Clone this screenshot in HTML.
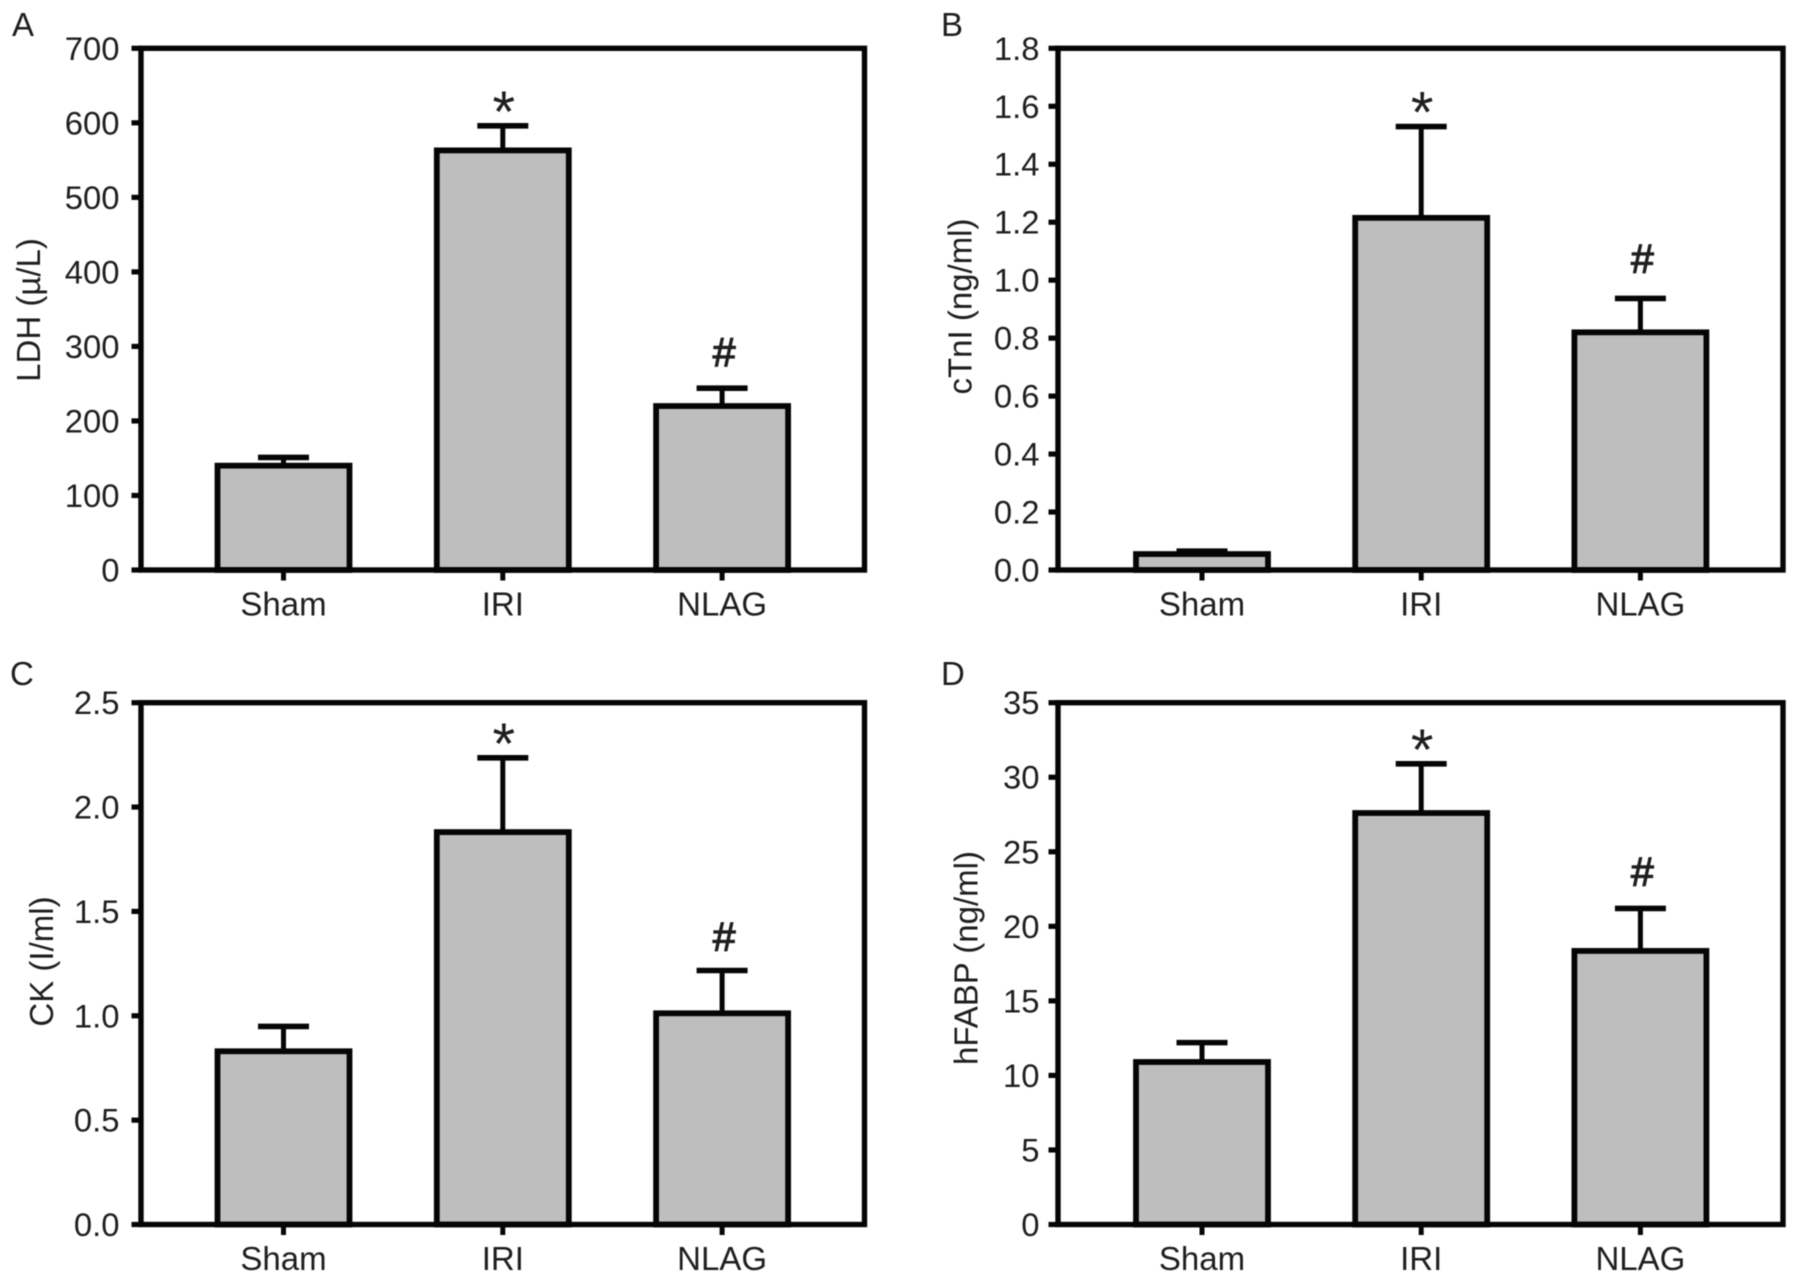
<!DOCTYPE html>
<html lang="en">
<head>
<meta charset="utf-8">
<title>Serum cardiac injury markers</title>
<style>
html,body{margin:0;padding:0;background:#fff;}
body{width:1798px;height:1284px;overflow:hidden;}
svg{display:block;filter:blur(0.6px);}
text{font-family:"Liberation Sans",Arial,sans-serif;fill:#1e1e1e;}
</style>
</head>
<body>
<svg id="figure" xmlns="http://www.w3.org/2000/svg" width="1798" height="1284" viewBox="0 0 1798 1284"></svg>
<script>
var categories = ['Sham', 'IRI', 'NLAG'];
var markers = ['', '*', '#'];

var ldhTicks = ['0', '100', '200', '300', '400', '500', '600', '700'];
var ldhMeans = [140, 563, 220];
var ldhUpper = [151, 596, 244];

var ctniTicks = ['0.0', '0.2', '0.4', '0.6', '0.8', '1.0', '1.2', '1.4', '1.6', '1.8'];
var ctniMeans = [0.055, 1.215, 0.82];
var ctniUpper = [0.065, 1.53, 0.937];

var ckTicks = ['0.0', '0.5', '1.0', '1.5', '2.0', '2.5'];
var ckMeans = [0.83, 1.88, 1.012];
var ckUpper = [0.949, 2.236, 1.217];

var hfabpTicks = ['0', '5', '10', '15', '20', '25', '30', '35'];
var hfabpMeans = [10.9, 27.6, 18.35];
var hfabpUpper = [12.2, 30.9, 21.2];

var SVG_NS = 'http://www.w3.org/2000/svg';
var figure = document.getElementById('figure');

function make(parent, tag, attrs, content) {
  var el = document.createElementNS(SVG_NS, tag);
  for (var key in attrs) { el.setAttribute(key, attrs[key]); }
  if (content !== undefined) { el.textContent = content; }
  parent.appendChild(el);
  return el;
}

function drawPanel(p) {
  var g = make(figure, 'g', {});
  
  

  var maxValue = Number(p.ticks[p.ticks.length - 1]);
  function yScale(v) { return p.bottom - (v / maxValue) * (p.bottom - p.top); }
  function xScale(i) { return p.firstX + i * p.stepX; }

  var panelLabel = make(g, 'text', { x: p.letterX, y: p.letterY, 'font-size': 33 }, p.letter);
  
  

  var yTitle = make(g, 'text', {
    transform: 'translate(' + p.titleX + ',' + p.titleY + ') rotate(-90)',
    'text-anchor': 'middle', 'font-size': 33
  }, p.title);
  
  

  p.ticks.forEach(function (label) {
    var y = yScale(Number(label));
    var tick = make(g, 'line', { x1: p.left - 9.5, x2: p.left, y1: y, y2: y, stroke: '#050505', 'stroke-width': 5.2 });
    
    
    var tickLabel = make(g, 'text', { x: p.labelX, y: y + 11.5, 'text-anchor': 'end', 'font-size': 32.8 }, label);
    
    
  });

  categories.forEach(function (name, i) {
    var cx = xScale(i);
    var barTop = yScale(p.means[i]);
    var capY = yScale(p.upper[i]);

    var stem = make(g, 'line', { x1: cx, x2: cx, y1: capY, y2: barTop, stroke: '#050505', 'stroke-width': 5 });
    
    

    var cap = make(g, 'line', { x1: cx - 25.5, x2: cx + 25.5, y1: capY, y2: capY, stroke: '#050505', 'stroke-width': 5.6 });
    
    

    var bar = make(g, 'rect', {
      x: cx - 66, y: barTop, width: 132, height: p.bottom - barTop,
      fill: '#bebebe', stroke: '#050505', 'stroke-width': 5.8
    });
    
    

    var xTick = make(g, 'line', { x1: cx, x2: cx, y1: p.bottom, y2: p.bottom + 10.5, stroke: '#050505', 'stroke-width': 5 });
    
    

    var xLabel = make(g, 'text', { x: cx, y: p.bottom + 45.5, 'text-anchor': 'middle', 'font-size': 33 }, name);
    
    

    if (markers[i] === '*') {
      var star = make(g, 'text', { x: cx + 1, y: capY + 6, 'text-anchor': 'middle', 'font-size': 58 }, '*');
      
      
    }
    if (markers[i] === '#') {
      var hash = make(g, 'text', {
        x: cx + 2, y: capY - 22 - p.hashLift, 'text-anchor': 'middle', 'font-size': 41,
        stroke: '#1e1e1e', 'stroke-width': 1.2
      }, '#');
      
      
    }
  });

  var frame = make(g, 'rect', {
    x: p.left, y: p.top, width: p.right - p.left, height: p.bottom - p.top,
    fill: 'none', stroke: '#050505', 'stroke-width': 5.4
  });
  
  
}

drawPanel({
  letter: 'A', title: 'LDH (\u00b5/L)', ticks: ldhTicks, means: ldhMeans, upper: ldhUpper,
  left: 141, right: 864.5, top: 48.3, bottom: 570,
  firstX: 283.5, stepX: 219.3, labelX: 119.5, hashLift: 0,
  letterX: 12, letterY: 36, titleX: 40, titleY: 310
});
drawPanel({
  letter: 'B', title: 'cTnI (ng/ml)', ticks: ctniTicks, means: ctniMeans, upper: ctniUpper,
  left: 1058, right: 1783, top: 48.3, bottom: 570,
  firstX: 1202, stepX: 219.2, labelX: 1039.5, hashLift: 4,
  letterX: 941, letterY: 36, titleX: 971.6, titleY: 306.5
});
drawPanel({
  letter: 'C', title: 'CK (I/ml)', ticks: ckTicks, means: ckMeans, upper: ckUpper,
  left: 141, right: 864.5, top: 702.7, bottom: 1224.5,
  firstX: 283.5, stepX: 219.3, labelX: 119.5, hashLift: -2,
  letterX: 10, letterY: 685, titleX: 52.8, titleY: 961.5
});
drawPanel({
  letter: 'D', title: 'hFABP (ng/ml)', ticks: hfabpTicks, means: hfabpMeans, upper: hfabpUpper,
  left: 1058, right: 1783, top: 702.7, bottom: 1224.5,
  firstX: 1202, stepX: 219.2, labelX: 1039.5, hashLift: 1,
  letterX: 941, letterY: 685, titleX: 977.3, titleY: 958
});
</script>
</body>
</html>
